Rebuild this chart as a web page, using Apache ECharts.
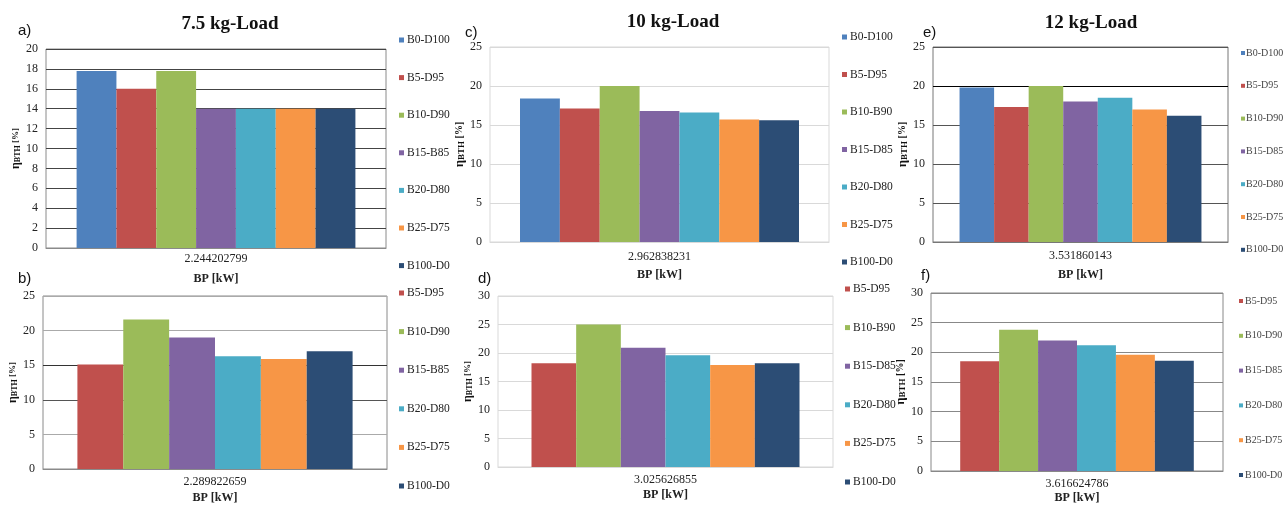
<!DOCTYPE html>
<html>
<head>
<meta charset="utf-8">
<script src="https://cdn.jsdelivr.net/npm/echarts@6/dist/echarts.min.js"></script>
<style>
  html, body { margin: 0; padding: 0; background: #ffffff; }
  #chart { width: 1283px; height: 505px; }
</style>
</head>
<body>
<div id="chart"></div>
<script>
// ---- data ----
const panelCategories = ['2.244202799', '2.289822659', '2.962838231', '3.025626855', '3.531860143', '3.616624786'];
const panelLetters = ['a)', 'b)', 'c)', 'd)', 'e)', 'f)'];
const loadTitles = ['7.5 kg-Load', '10 kg-Load', '12 kg-Load'];

const namesA = ['B0-D100', 'B5-D95', 'B10-D90', 'B15-B85', 'B20-D80', 'B25-D75', 'B100-D0'];
const valuesA = [17.8, 16.0, 17.8, 14.0, 14.0, 14.0, 14.0];
const namesB = ['B5-D95', 'B10-D90', 'B15-B85', 'B20-D80', 'B25-D75', 'B100-D0'];
const valuesB = [15.1, 21.6, 19.0, 16.3, 15.9, 17.0];
const namesC = ['B0-D100', 'B5-D95', 'B10-B90', 'B15-D85', 'B20-D80', 'B25-D75', 'B100-D0'];
const valuesC = [18.4, 17.1, 20.0, 16.8, 16.6, 15.7, 15.6];
const namesD = ['B5-D95', 'B10-B90', 'B15-D85', 'B20-D80', 'B25-D75', 'B100-D0'];
const valuesD = [18.2, 25.0, 20.9, 19.6, 17.9, 18.2];
const namesE = ['B0-D100', 'B5-D95', 'B10-D90', 'B15-D85', 'B20-D80', 'B25-D75', 'B100-D0'];
const valuesE = [19.8, 17.3, 20.0, 18.0, 18.5, 17.0, 16.2];
const namesF = ['B5-D95', 'B10-D90', 'B15-D85', 'B20-D80', 'B25-D75', 'B100-D0'];
const valuesF = [18.5, 23.8, 22.0, 21.2, 19.6, 18.6];

const yMax = [20, 25, 25, 30, 25, 30];
const yStep = [2, 5, 5, 5, 5, 5];

// ---- styles / layout ----
const blendColors = {
  'B0': '#4F81BD', 'B5': '#C0504D', 'B10': '#9BBB59', 'B15': '#8064A2',
  'B20': '#4BACC6', 'B25': '#F79646', 'B100': '#2C4D75'
};
const SERIF = '"Liberation Serif", "DejaVu Serif", serif';
const SANS = '"Liberation Sans", Arial, sans-serif';

const panels = [
  { names: namesA, values: valuesA, grid: { left: 46, top: 49, width: 340, height: 199 }, gap: '18%',
    split: ['#444'], border: '#8a8a8a', labelMargin: 5, nameGap: 25, yNameGap: 22, yNameSize: 11,
    legend: { left: 399, top: 34, gap: 25.6, size: 11.5, icon: 5, pad: -2, color: '#222' } },
  { names: namesB, values: valuesB, grid: { left: 43, top: 296, width: 344, height: 175 }, gap: '20%',
    split: ['#444', '#aaa', '#555', '#333', '#aaa', '#aaa'], border: '#8a8a8a', labelMargin: 7, nameGap: 23, yNameGap: 21, yNameSize: 11,
    legend: { left: 399, top: 287, gap: 26.6, size: 11.5, icon: 5, pad: -2, color: '#222' } },
  { names: namesC, values: valuesC, grid: { left: 490, top: 47, width: 339, height: 195 }, gap: '17.7%',
    split: ['#d9d9d9'], border: '#d9d9d9', labelMargin: 9, nameGap: 27, yNameGap: 20, yNameSize: 12,
    legend: { left: 842, top: 31, gap: 25.5, size: 11.5, icon: 5, pad: -2, color: '#222' } },
  { names: namesD, values: valuesD, grid: { left: 498, top: 296, width: 335, height: 171 }, gap: '20%',
    split: ['#d9d9d9'], border: '#d9d9d9', labelMargin: 7, nameGap: 22, yNameGap: 18, yNameSize: 11,
    legend: { left: 845, top: 283, gap: 26.6, size: 11.5, icon: 5, pad: -2, color: '#222' } },
  { names: namesE, values: valuesE, grid: { left: 933, top: 47, width: 295, height: 195 }, gap: '18%',
    split: ['#555', '#555', '#555', '#555', '#000', '#555'], border: '#777', labelMargin: 8, nameGap: 27, yNameGap: 16, yNameSize: 12,
    legend: { left: 1241, top: 47, gap: 20.8, size: 10, icon: 4, pad: -4, color: '#444' } },
  { names: namesF, values: valuesF, grid: { left: 931, top: 293, width: 292, height: 178 }, gap: '20%',
    split: ['#888'], border: '#888', labelMargin: 7, nameGap: 21, yNameGap: 15, yNameSize: 12,
    legend: { left: 1239, top: 295, gap: 22.8, size: 10, icon: 4, pad: -3, color: '#444' } }
];

const titlePos = [
  { x: 230, y: 24 }, { x: 673, y: 22 }, { x: 1091, y: 23 }
];
const letterPos = [
  { x: 18, y: 31 }, { x: 18, y: 279 }, { x: 465, y: 33 },
  { x: 478, y: 279 }, { x: 923, y: 33 }, { x: 921, y: 276 }
];

function colorOf(name) {
  return blendColors[name.split('-')[0]];
}

const grids = [], xAxes = [], yAxes = [], series = [], legends = [], graphics = [];

panels.forEach((p, i) => {
  grids.push(Object.assign({ show: true, borderColor: p.border, borderWidth: 1, backgroundColor: 'transparent' }, p.grid));
  xAxes.push({
    type: 'category', gridIndex: i, data: [panelCategories[i]],
    axisTick: { show: false },
    axisLine: { show: true, lineStyle: { color: p.border } },
    axisLabel: { margin: p.labelMargin, fontFamily: SERIF, fontSize: 12, color: '#222' },
    name: 'BP [kW]', nameLocation: 'middle', nameGap: p.nameGap,
    nameTextStyle: { fontFamily: SERIF, fontSize: 12, fontWeight: 'bold', color: '#222', verticalAlign: 'top' }
  });
  yAxes.push({
    type: 'value', gridIndex: i, min: 0, max: yMax[i], interval: yStep[i],
    axisLine: { show: false }, axisTick: { show: false },
    axisLabel: { fontFamily: SERIF, fontSize: 12, color: '#222', margin: 8 },
    splitLine: { show: true, lineStyle: { color: p.split, width: 1 } },
    name: '{e|η}{s|BTH}{p| [%]}', nameLocation: 'middle', nameRotate: 90, nameGap: p.yNameGap,
    nameTextStyle: {
      color: '#111',
      rich: {
        e: { fontFamily: SERIF, fontSize: p.yNameSize + 1, fontWeight: 'bold', color: '#111', verticalAlign: 'middle' },
        s: { fontFamily: SERIF, fontSize: p.yNameSize - 3, fontWeight: 'bold', color: '#111', verticalAlign: 'bottom' },
        p: { fontFamily: SERIF, fontSize: p.yNameSize - 2, fontWeight: 'bold', color: '#111', verticalAlign: 'middle' }
      }
    }
  });
  p.names.forEach((n, k) => {
    series.push({
      type: 'bar', name: n, xAxisIndex: i, yAxisIndex: i,
      data: [p.values[k]],
      barGap: '0%', barCategoryGap: p.gap,
      itemStyle: { color: colorOf(n) },
      emphasis: { disabled: true }
    });
  });
  legends.push({
    orient: 'vertical', left: p.legend.left, top: p.legend.top, padding: 0,
    itemWidth: p.legend.icon, itemHeight: p.legend.icon, itemGap: p.legend.gap, icon: 'rect',
    selectedMode: false,
    data: p.names,
    textStyle: { fontFamily: SERIF, fontSize: p.legend.size, lineHeight: 12, color: p.legend.color, padding: [0, 0, 0, p.legend.pad] }
  });
  graphics.push({
    type: 'text', x: letterPos[i].x, y: letterPos[i].y,
    style: { text: panelLetters[i], font: '15px ' + SANS, fill: '#111', textVerticalAlign: 'middle' }
  });
});

loadTitles.forEach((t, j) => {
  graphics.push({
    type: 'text', x: titlePos[j].x, y: titlePos[j].y,
    style: { text: t, font: 'bold 19px ' + SERIF, fill: '#111', textAlign: 'center', textVerticalAlign: 'middle' }
  });
});

const chart = echarts.init(document.getElementById('chart'), null, { renderer: 'canvas' });
chart.setOption({
  backgroundColor: '#ffffff',
  animation: false,
  grid: grids,
  xAxis: xAxes,
  yAxis: yAxes,
  legend: legends,
  series: series,
  graphic: graphics
});
</script>
</body>
</html>
